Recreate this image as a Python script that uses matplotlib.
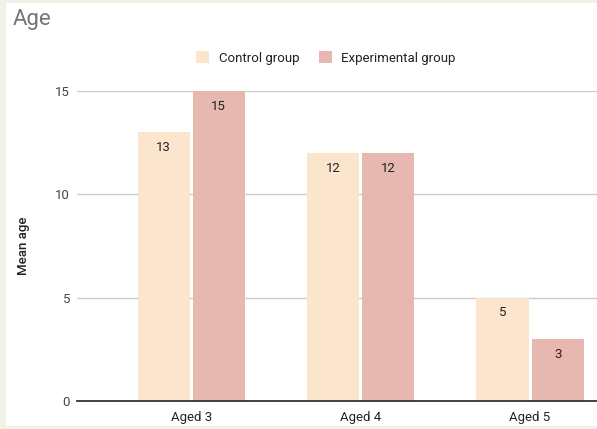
import matplotlib.pyplot as plt
from matplotlib.patches import Rectangle, Patch

categories = ['Aged 3', 'Aged 4', 'Aged 5']
control = [13, 12, 5]
experimental = [15, 12, 3]
series_names = ['Control group', 'Experimental group']

c_control = '#fce5cd'
c_exp = '#e6b8af'

plt.rcParams['font.family'] = ['Roboto', 'DejaVu Sans']

fig = plt.figure(figsize=(5.97, 4.29), dpi=100)
fig.patch.set_facecolor('#f3f1e6')
# white card behind everything
fig.patches.append(Rectangle((6 / 597, 3 / 429), 591 / 597, 423 / 429, transform=fig.transFigure,
                             facecolor='white', edgecolor='none', zorder=-5))

ax = fig.add_axes([77 / 597, 1 - 401 / 429, 520 / 597, 310 / 429])
ax.set_facecolor('none')
ax.set_zorder(2)

x = list(range(len(categories)))
w = 0.307
off = 0.1625
b1 = ax.bar([i - off for i in x], control, width=w, color=c_control, zorder=2)
b2 = ax.bar([i + off for i in x], experimental, width=w, color=c_exp, zorder=2)

for bars in (b1, b2):
    for rect in bars:
        h = rect.get_height()
        ax.annotate(f'{h:g}', (rect.get_x() + rect.get_width() / 2, h),
                    xytext=(0, -11), textcoords='offset points',
                    ha='center', va='center', fontsize=9.5, color='#222222')

ax.set_xlim(-0.673, 2.395)
ax.set_ylim(0, 15)
ax.set_yticks([0, 5, 10, 15])
ax.set_xticks(x)
ax.set_xticklabels(categories)
ax.tick_params(length=0, labelsize=9.5, colors='#444444', pad=5)
ax.tick_params(axis='x', colors='#222222', pad=7)
ax.grid(axis='y', color='#cccccc', linewidth=1, zorder=1)
for s in ['top', 'right', 'left']:
    ax.spines[s].set_visible(False)
ax.spines['bottom'].set_color('#333333')
ax.spines['bottom'].set_linewidth(1.3)
ax.spines['bottom'].set_zorder(3)

ax.set_ylabel('Mean age', fontsize=9.5, color='#222222', labelpad=18, fontweight='medium')

fig.text(13 / 597, 1 - 19 / 429, 'Age', fontsize=16, color='#757575', va='center', ha='left')

handles = [Patch(facecolor=c_control, edgecolor='none'), Patch(facecolor=c_exp, edgecolor='none')]
fig.legend(handles, series_names, loc='center', bbox_to_anchor=(326 / 597, 1 - 58 / 429),
           ncol=2, frameon=False, fontsize=9.5, handlelength=1.0, handleheight=1.0,
           handletextpad=0.7, columnspacing=1.5, labelcolor='#222222')

fig.savefig('out.png', dpi=100)
